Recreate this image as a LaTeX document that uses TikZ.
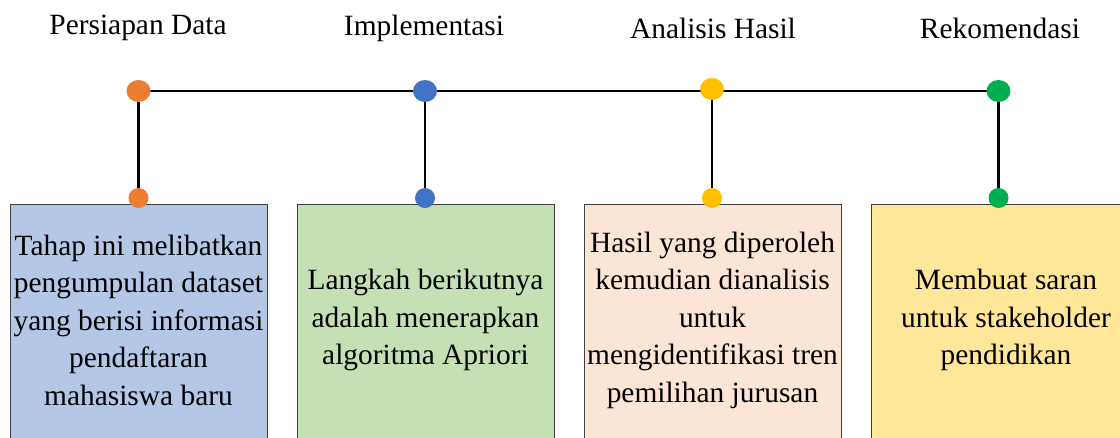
\documentclass[tikz,border=0pt]{standalone}
\usepackage{fontspec}
\usetikzlibrary{shapes.geometric}
\setmainfont{Liberation Serif}
\definecolor{cOrange}{HTML}{ED7D31}
\definecolor{cBlue}{HTML}{4472C4}
\definecolor{cGold}{HTML}{FFC000}
\definecolor{cGreen}{HTML}{00B050}
\definecolor{fBlue}{HTML}{B4C7E7}
\definecolor{fGreen}{HTML}{C5E0B4}
\definecolor{fPeach}{HTML}{FBE5D6}
\definecolor{fYellow}{HTML}{FFE699}
\begin{document}
\begin{tikzpicture}[x=1pt,y=-1pt,
  title/.style={font=\fontsize{29.4}{37.5}\selectfont, anchor=center, inner sep=0pt},
  boxtext/.style={font=\fontsize{29.4}{37.5}\selectfont, align=center, inner sep=0pt, anchor=center},
  panel/.style={draw=black!75, line width=1pt},
  topdot/.style={ellipse, minimum width=24pt, minimum height=22pt, inner sep=0pt},
  botdot/.style={circle, minimum size=20pt, inner sep=0pt},
  link/.style={line width=2.6pt, black}]
\useasboundingbox (0,0) rectangle (1120,437);
\clip (0,0) rectangle (1120,437);
% panels
\draw[panel, fill=fBlue]   (10,204)  rectangle (267,450);
\draw[panel, fill=fGreen]  (297,204) rectangle (554,450);
\draw[panel, fill=fPeach]  (584,204) rectangle (841,450);
\draw[panel, fill=fYellow] (871,204) rectangle (1128,450);
% dot centres
\coordinate (t1) at (138.5,91);
\coordinate (t2) at (425,91);
\coordinate (t3) at (712,89);
\coordinate (t4) at (998.5,91);
\coordinate (b1) at (138.5,198);
\coordinate (b2) at (425,198);
\coordinate (b3) at (712,198);
\coordinate (b4) at (998.5,198);
\draw[link] (t1) -- (t4);
\draw[link] (t1) -- (b1);
\draw[link] (t2) -- (b2);
\draw[link] (t3) -- (b3);
\draw[link] (t4) -- (b4);
\node[topdot, fill=cOrange] (d1) at (t1) {};
\node[topdot, fill=cBlue]   (d2) at (t2) {};
\node[topdot, fill=cGold]   (d3) at (t3) {};
\node[topdot, fill=cGreen]  (d4) at (t4) {};
\node[botdot, fill=cOrange] (e1) at (b1) {};
\node[botdot, fill=cBlue]   (e2) at (b2) {};
\node[botdot, fill=cGold]   (e3) at (b3) {};
\node[botdot, fill=cGreen]  (e4) at (b4) {};
% titles
\node[title] (h1) at (138,28) {Persiapan Data};
\node[title] (h2) at (424,28) {Implementasi};
\node[title] (h3) at (713,28) {Analisis Hasil};
\node[title] (h4) at (1000,28) {Rekomendasi};
% texts
\node[boxtext] (x1) at (138.5,320) {Tahap ini melibatkan\\pengumpulan dataset\\yang berisi informasi\\pendaftaran\\mahasiswa baru};
\node[boxtext] (x2) at (425.5,320) {Langkah berikutnya\\adalah menerapkan\\algoritma Apriori};
\node[boxtext] (x3) at (712.5,320) {Hasil yang diperoleh\\kemudian dianalisis\\untuk\\mengidentifikasi tren\\pemilihan jurusan};
\node[boxtext] (x4) at (1006,320) {Membuat saran\\untuk stakeholder\\pendidikan};
\end{tikzpicture}
\end{document}
